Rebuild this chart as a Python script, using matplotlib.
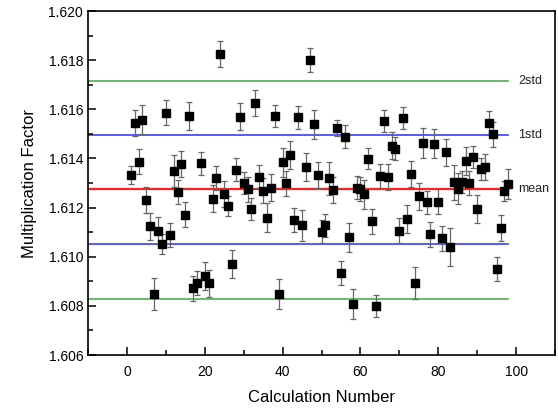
import matplotlib
matplotlib.use("Agg")
import matplotlib.pyplot as plt
from matplotlib.ticker import MultipleLocator, FormatStrFormatter

plt.rcParams['font.family'] = ['Liberation Sans', 'DejaVu Sans']

calc = list(range(1, 99))
factor = [
    1.61331, 1.61545, 1.61387, 1.61558, 1.61230, 1.61124, 1.60847, 1.61105, 1.61052, 1.61586,
    1.61090, 1.61348, 1.61263, 1.61376, 1.61171, 1.61574, 1.60871, 1.60893, 1.61380, 1.60921,
    1.60892, 1.61236, 1.61322, 1.61824, 1.61255, 1.61205, 1.60972, 1.61354, 1.61570, 1.61301,
    1.61274, 1.61194, 1.61624, 1.61326, 1.61269, 1.61159, 1.61280, 1.61573, 1.60849, 1.61385,
    1.61299, 1.61414, 1.61149, 1.61567, 1.61128, 1.61366, 1.61801, 1.61539, 1.61334, 1.61102,
    1.61128, 1.61319, 1.61271, 1.61524, 1.60933, 1.61488, 1.61079, 1.60808, 1.61281, 1.61276,
    1.61254, 1.61399, 1.61144, 1.60799, 1.61327, 1.61551, 1.61324, 1.61452, 1.61440, 1.61105,
    1.61565, 1.61153, 1.61335, 1.60893, 1.61246, 1.61463, 1.61221, 1.61091, 1.61460, 1.61223,
    1.61075, 1.61425, 1.61038, 1.61303, 1.61276, 1.61305, 1.61390, 1.61299, 1.61407, 1.61194,
    1.61357, 1.61366, 1.61544, 1.61499, 1.60949, 1.61118, 1.61267, 1.61296,
]
errors = [
    0.00037, 0.00052, 0.00052, 0.00058, 0.00052, 0.00055, 0.00065, 0.00055, 0.00040, 0.00050,
    0.00049, 0.00064, 0.00049, 0.00053, 0.00050, 0.00057, 0.00052, 0.00048, 0.00046, 0.00056,
    0.00054, 0.00056, 0.00049, 0.00052, 0.00053, 0.00041, 0.00057, 0.00046, 0.00056, 0.00045,
    0.00050, 0.00046, 0.00053, 0.00048, 0.00051, 0.00059, 0.00055, 0.00044, 0.00062, 0.00059,
    0.00050, 0.00057, 0.00050, 0.00046, 0.00062, 0.00058, 0.00049, 0.00060, 0.00053, 0.00048,
    0.00046, 0.00066, 0.00052, 0.00034, 0.00050, 0.00047, 0.00060, 0.00060, 0.00048, 0.00050,
    0.00058, 0.00042, 0.00050, 0.00046, 0.00051, 0.00045, 0.00054, 0.00056, 0.00048, 0.00051,
    0.00045, 0.00058, 0.00053, 0.00064, 0.00054, 0.00062, 0.00048, 0.00052, 0.00059, 0.00051,
    0.00051, 0.00056, 0.00077, 0.00071, 0.00063, 0.00045, 0.00056, 0.00049, 0.00044, 0.00056,
    0.00046, 0.00052, 0.00050, 0.00051, 0.00049, 0.00053, 0.00040, 0.00061,
]

mean_val = 1.61274
std_upper1 = 1.61497
std_lower1 = 1.61052
std_upper2 = 1.61716
std_lower2 = 1.60829
ref_labels = ["2std", "1std", "mean"]

fig = plt.figure(figsize=(5.58, 4.12), dpi=100)
ax = fig.add_axes([0.1577, 0.1383, 0.837, 0.835])

line_x = [-10, 98]
ax.plot(line_x, [std_upper2, std_upper2], color='#4fae4f', lw=1.2, zorder=1)
ax.plot(line_x, [std_lower2, std_lower2], color='#4fae4f', lw=1.2, zorder=1)
ax.plot(line_x, [std_upper1, std_upper1], color='#3b3bff', lw=1.2, zorder=1)
ax.plot(line_x, [std_lower1, std_lower1], color='#3b3bff', lw=1.2, zorder=1)
ax.plot(line_x, [mean_val, mean_val], color='#ff2020', lw=1.6, zorder=1)

ax.errorbar(calc, factor, yerr=errors, fmt='s', color='black', ms=5.5,
            ecolor='#666666', elinewidth=0.9, capsize=2.2, capthick=0.9, zorder=3)

for lab, yv in zip(ref_labels, [std_upper2, std_upper1, mean_val]):
    ax.text(100.5, yv, lab, fontsize=9, va='center', ha='left', color='#222222')

ax.set_xlim(-10, 110)
ax.set_ylim(1.606, 1.620)
ax.xaxis.set_major_locator(MultipleLocator(20))
ax.xaxis.set_minor_locator(MultipleLocator(10))
ax.yaxis.set_major_locator(MultipleLocator(0.002))
ax.yaxis.set_minor_locator(MultipleLocator(0.001))
ax.yaxis.set_major_formatter(FormatStrFormatter('%.3f'))
ax.tick_params(which='both', direction='in', top=False, right=False, labelsize=10, width=1.1)
ax.tick_params(which='major', length=6)
ax.tick_params(which='minor', length=3.5)
ax.tick_params(axis='x', pad=7)
for s in ax.spines.values():
    s.set_linewidth(1.2)

ax.set_xlabel('Calculation Number', fontsize=12, labelpad=8)
ax.set_ylabel('Multiplication Factor', fontsize=12, labelpad=8)

fig.savefig('out.png', dpi=100)
